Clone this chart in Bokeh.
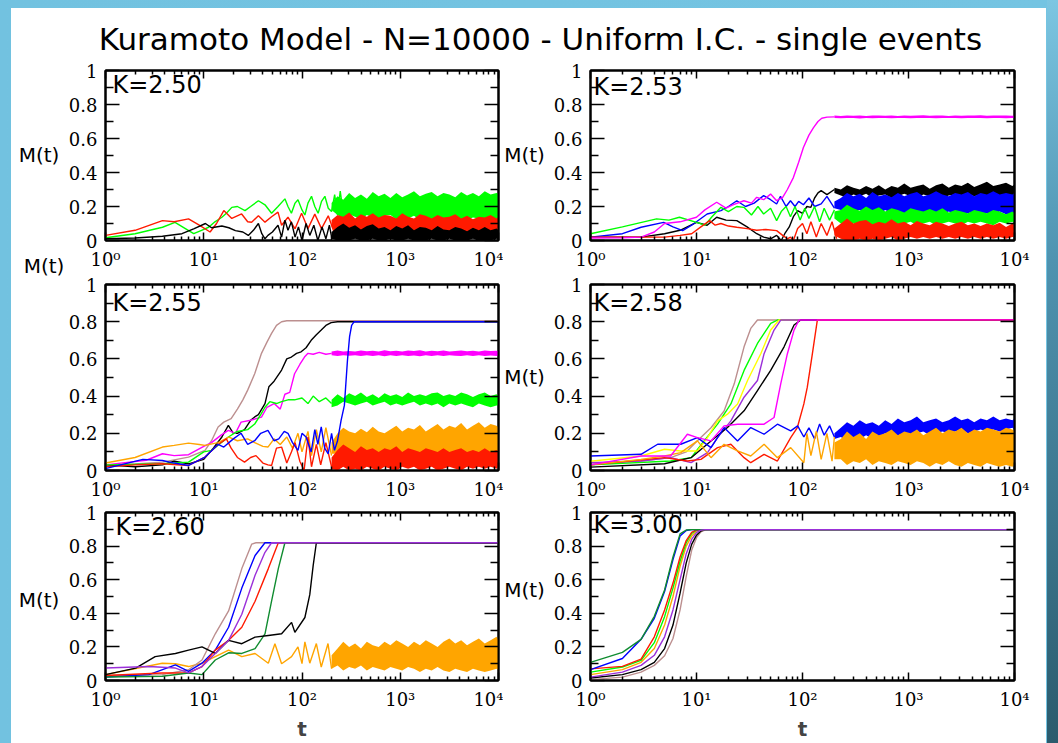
from bokeh.plotting import figure
from bokeh.models import Range1d, FixedTicker, LinearAxis, LogAxis, Label, Div
from bokeh.layouts import column, row
from bokeh.embed import file_html
from bokeh.resources import INLINE

TITLE = "Kuramoto Model - N=10000 - Uniform I.C. - single events"
K_LABELS = ["K=2.50", "K=2.53", "K=2.55", "K=2.58", "K=2.60", "K=3.00"]
Y_AXIS_TITLE = "M(t)"
X_AXIS_TITLE = "t"
X_TICKS = [1, 10, 100, 1000, 10000]
X_TICK_LABELS = ["10\u2070", "10\u00b9", "10\u00b2", "10\u00b3", "10\u2074"]
X_MINOR = [2, 3, 4, 5, 6, 7, 8, 9, 20, 30, 40, 50, 60, 70, 80, 90,
           200, 300, 400, 500, 600, 700, 800, 900, 2000, 3000, 4000, 5000, 6000, 7000, 8000, 9000]
Y_TICKS = [0, 0.2, 0.4, 0.6, 0.8, 1]
Y_TICK_LABELS = ["0", "0.2", "0.4", "0.6", "0.8", "1"]
Y_MINOR = [0.1, 0.3, 0.5, 0.7, 0.9]

# common time grid of the dense (noisy) part of the runs
BT = [200, 230, 263, 302, 347, 398, 457, 525, 603, 692, 794, 912, 1047, 1202, 1380, 1585, 1820, 2089,
      2399, 2754, 3162, 3631, 4169, 4786, 5495, 6310, 7244, 8318, 9550, 10000]

# ---------------- K = 2.50 ----------------
K250_GREEN_T = [1, 2, 3.8, 5.1, 6.5, 7.9, 9.5, 11.2, 13, 15.3, 17, 19.3, 22, 26.3, 30, 36, 42, 49, 57, 67,
                72, 78, 85, 91, 100, 107, 115, 125, 135, 146, 158, 171, 185, 200, 215, 230, 245, 263]
K250_GREEN_M = [0.016, 0.04, 0.078, 0.107, 0.07, 0.04, 0.06, 0.078, 0.11, 0.137, 0.16, 0.195, 0.2, 0.176, 0.2,
                0.234, 0.21, 0.16, 0.2, 0.245, 0.2, 0.16, 0.22, 0.24, 0.18, 0.15, 0.22, 0.26, 0.2, 0.16,
                0.23, 0.26, 0.19, 0.17, 0.27, 0.15, 0.29, 0.16]
K250_GREEN_HI = [0.22, 0.26, 0.24, 0.28, 0.25, 0.27, 0.245, 0.285, 0.26, 0.275, 0.25, 0.28, 0.255, 0.27, 0.29,
                 0.26, 0.275, 0.285, 0.26, 0.28, 0.27, 0.255, 0.285, 0.265, 0.28, 0.26, 0.29, 0.27, 0.28, 0.275]
K250_GREEN_LO = [0.18, 0.15, 0.13, 0.155, 0.14, 0.125, 0.15, 0.135, 0.13, 0.145, 0.15, 0.125, 0.14, 0.13, 0.145,
                 0.12, 0.14, 0.125, 0.135, 0.13, 0.12, 0.14, 0.125, 0.12, 0.135, 0.13, 0.115, 0.13, 0.12, 0.125]
K250_RED_T = [1, 2, 3.8, 5, 7, 9, 11.6, 13.5, 16, 19.3, 24.3, 28, 30.7, 36, 42, 49, 57, 62, 72, 85,
              99, 115, 135, 158, 185, 215]
K250_RED_M = [0.03, 0.06, 0.117, 0.11, 0.127, 0.09, 0.05, 0.1, 0.176, 0.13, 0.156, 0.11, 0.107, 0.146, 0.108,
              0.14, 0.167, 0.09, 0.137, 0.069, 0.16, 0.07, 0.155, 0.07, 0.145, 0.04]
K250_RED_HI = [0.12, 0.15, 0.14, 0.165, 0.13, 0.155, 0.14, 0.16, 0.135, 0.15, 0.145, 0.13, 0.16, 0.14, 0.13,
               0.155, 0.145, 0.13, 0.15, 0.135, 0.14, 0.155, 0.13, 0.145, 0.125, 0.14, 0.135, 0.15, 0.13, 0.14]
K250_RED_LO = [0.08, 0.04, 0.06, 0.035, 0.05, 0.03, 0.055, 0.04, 0.05, 0.03, 0.045, 0.05, 0.03, 0.04, 0.035,
               0.05, 0.04, 0.03, 0.045, 0.03, 0.05, 0.03, 0.04, 0.035, 0.04, 0.03, 0.045, 0.03, 0.04, 0.03]
K250_BLACK_T = [1, 2, 3.8, 6, 8, 10.4, 12, 15.3, 18, 21, 25, 28.4, 32, 36, 39, 42, 45, 50, 57, 62,
                67, 72, 78, 85, 92, 100, 110, 120, 132, 145, 160, 175, 190, 200]
K250_BLACK_M = [0.01, 0.015, 0.025, 0.04, 0.07, 0.1, 0.075, 0.085, 0.075, 0.058, 0.05, 0.03, 0.06, 0.1, 0.04,
                0.01, 0.03, 0.05, 0.09, 0.02, 0.12, 0.06, 0.11, 0.02, 0.08, 0.0, 0.1, 0.03, 0.09, 0.0,
                0.08, 0.01, 0.09, 0.02]
K250_BLACK_HI = [0.05, 0.08, 0.1, 0.075, 0.09, 0.065, 0.085, 0.095, 0.07, 0.08, 0.06, 0.085, 0.07, 0.09, 0.06,
                 0.08, 0.075, 0.06, 0.085, 0.065, 0.06, 0.08, 0.07, 0.055, 0.075, 0.06, 0.08, 0.06, 0.07, 0.06]
K250_BLACK_LO = [0.01, 0.0, 0.0, 0.0, 0.01, 0.0, 0.0, 0.01, 0.0, 0.0, 0.01, 0.0, 0.0, 0.01, 0.0,
                 0.0, 0.0, 0.01, 0.0, 0.0, 0.01, 0.0, 0.0, 0.0, 0.01, 0.0, 0.0, 0.0, 0.01, 0.0]

# ---------------- K = 2.53 ----------------
K253_MAGENTA_T = [1, 2, 3, 4, 5, 7, 10, 12, 15.5, 19, 22, 28, 33, 37, 43, 50, 57, 65, 72, 82,
                  92, 102, 115, 127, 140, 152, 170, 200]
K253_MAGENTA_M = [0.015, 0.016, 0.02, 0.05, 0.1, 0.11, 0.137, 0.18, 0.225, 0.19, 0.21, 0.234, 0.22, 0.254,
                  0.24, 0.273, 0.234, 0.254, 0.3, 0.37, 0.46, 0.547, 0.62, 0.664, 0.7, 0.719, 0.726, 0.727]
K253_MAGENTA_HI = [0.735, 0.733, 0.736, 0.734, 0.736, 0.733, 0.735, 0.736, 0.734, 0.735, 0.733, 0.736, 0.734,
                   0.735, 0.737, 0.734, 0.736, 0.735, 0.733, 0.736, 0.734, 0.736, 0.735, 0.737, 0.734, 0.736,
                   0.735, 0.736, 0.734, 0.735]
K253_MAGENTA_LO = [0.72, 0.719, 0.721, 0.72, 0.718, 0.72, 0.719, 0.721, 0.72, 0.719, 0.72, 0.721, 0.719,
                   0.72, 0.721, 0.72, 0.719, 0.72, 0.721, 0.72, 0.719, 0.72, 0.721, 0.72, 0.719, 0.721,
                   0.72, 0.719, 0.72, 0.72]
K253_BLACK_T = [1, 3, 5, 7, 10, 12.6, 15.5, 19, 24, 30, 37, 43, 50, 57, 63, 68, 75, 82, 90, 100,
                110, 120, 130, 140, 150, 170, 200]
K253_BLACK_M = [0.02, 0.02, 0.04, 0.06, 0.107, 0.09, 0.137, 0.12, 0.117, 0.08, 0.04, 0.02, 0.01, 0.03, 0.0,
                0.04, 0.08, 0.14, 0.176, 0.16, 0.2, 0.195, 0.25, 0.28, 0.293, 0.27, 0.3]
K253_BLACK_HI = [0.31, 0.3, 0.325, 0.31, 0.3, 0.32, 0.305, 0.325, 0.3, 0.32, 0.31, 0.335, 0.31, 0.32, 0.33,
                 0.305, 0.325, 0.335, 0.31, 0.33, 0.32, 0.34, 0.315, 0.33, 0.345, 0.32, 0.33, 0.34, 0.32, 0.33]
K253_BLACK_LO = [0.28, 0.265, 0.25, 0.27, 0.26, 0.275, 0.25, 0.265, 0.27, 0.25, 0.26, 0.275, 0.26, 0.25, 0.27,
                 0.26, 0.275, 0.25, 0.265, 0.27, 0.26, 0.275, 0.26, 0.27, 0.26, 0.275, 0.26, 0.27, 0.26, 0.27]
K253_BLUE_T = [1, 2, 3, 4.9, 6, 7.4, 9, 12.6, 17, 20, 24, 29, 35, 43, 50, 57, 62, 70, 77, 85,
               92, 102, 115, 130, 150, 170, 200]
K253_BLUE_M = [0.02, 0.04, 0.078, 0.107, 0.08, 0.058, 0.09, 0.156, 0.176, 0.2, 0.234, 0.2, 0.22, 0.264, 0.24,
               0.215, 0.26, 0.2, 0.234, 0.2, 0.23, 0.21, 0.25, 0.2, 0.215, 0.26, 0.19]
K253_BLUE_HI = [0.23, 0.25, 0.28, 0.26, 0.275, 0.25, 0.285, 0.26, 0.27, 0.255, 0.28, 0.26, 0.275, 0.285, 0.26,
                0.27, 0.29, 0.27, 0.26, 0.28, 0.27, 0.285, 0.26, 0.28, 0.27, 0.29, 0.27, 0.28, 0.27, 0.28]
K253_BLUE_LO = [0.19, 0.18, 0.16, 0.175, 0.18, 0.16, 0.17, 0.155, 0.18, 0.16, 0.17, 0.155, 0.17, 0.16, 0.15,
                0.17, 0.16, 0.15, 0.17, 0.155, 0.15, 0.16, 0.17, 0.15, 0.16, 0.15, 0.17, 0.155, 0.15, 0.16]
K253_GREEN_T = [1, 2, 4.2, 5.5, 6.9, 10, 12, 14, 17, 20, 24, 28, 33, 38, 43, 50, 57, 63, 70, 77,
                85, 95, 105, 115, 130, 145, 160, 180, 200]
K253_GREEN_M = [0.04, 0.08, 0.127, 0.12, 0.137, 0.107, 0.09, 0.14, 0.195, 0.17, 0.2, 0.195, 0.15, 0.2, 0.156,
                0.19, 0.117, 0.17, 0.2, 0.14, 0.2, 0.12, 0.19, 0.13, 0.2, 0.11, 0.19, 0.12, 0.18]
K253_GREEN_HI = [0.17, 0.18, 0.21, 0.19, 0.175, 0.2, 0.18, 0.195, 0.17, 0.19, 0.18, 0.165, 0.19, 0.18, 0.17,
                 0.185, 0.17, 0.19, 0.165, 0.18, 0.17, 0.16, 0.18, 0.17, 0.16, 0.18, 0.17, 0.155, 0.17, 0.16]
K253_GREEN_LO = [0.13, 0.1, 0.08, 0.1, 0.09, 0.105, 0.08, 0.1, 0.09, 0.1, 0.09, 0.1, 0.11, 0.09, 0.1,
                 0.11, 0.09, 0.1, 0.11, 0.1, 0.09, 0.11, 0.1, 0.11, 0.1, 0.09, 0.11, 0.1, 0.11, 0.1]
K253_RED_T = [1, 3, 5, 7, 9, 11, 13.3, 15, 17, 20, 24, 30, 37, 45, 57, 65, 72, 77, 82, 90,
              100, 110, 120, 135, 150, 170, 190, 210]
K253_RED_M = [0.02, 0.02, 0.02, 0.03, 0.04, 0.08, 0.117, 0.09, 0.1, 0.085, 0.078, 0.07, 0.06, 0.065, 0.058,
              0.03, 0.01, 0.02, 0.0, 0.07, 0.1, 0.04, 0.11, 0.02, 0.1, 0.03, 0.11, 0.01]
K253_RED_HI = [0.07, 0.1, 0.13, 0.1, 0.115, 0.12, 0.095, 0.11, 0.1, 0.125, 0.1, 0.11, 0.09, 0.115, 0.1,
               0.09, 0.11, 0.1, 0.085, 0.1, 0.11, 0.09, 0.1, 0.085, 0.1, 0.09, 0.105, 0.08, 0.1, 0.09]
K253_RED_LO = [0.03, 0.01, 0.0, 0.0, 0.01, 0.0, 0.01, 0.0, 0.01, 0.02, 0.0, 0.01, 0.02, 0.01, 0.02,
               0.01, 0.02, 0.01, 0.02, 0.01, 0.02, 0.01, 0.02, 0.01, 0.02, 0.01, 0.02, 0.01, 0.02, 0.02]

# ---------------- K = 2.55 ----------------
K255_BROWN_T = [1, 2, 3.8, 7, 10.3, 12, 14, 16, 19, 22, 25, 28, 33, 38.7, 44, 49, 55, 62, 70, 100, 1000, 10000]
K255_BROWN_M = [0.03, 0.035, 0.045, 0.072, 0.108, 0.16, 0.234, 0.26, 0.279, 0.33, 0.38, 0.432, 0.52, 0.63,
                0.69, 0.737, 0.78, 0.8, 0.805, 0.805, 0.805, 0.805]
K255_BLACK_T = [1, 2, 3.8, 5, 7, 10, 12.5, 15.3, 17.8, 20, 22, 26, 30, 33, 36, 42, 46, 52, 62, 70,
                78, 88, 98, 110, 124, 140, 157, 175, 198, 230, 1000, 10000]
K255_BLACK_M = [0.03, 0.02, 0.03, 0.05, 0.036, 0.06, 0.12, 0.18, 0.243, 0.2, 0.2, 0.22, 0.27, 0.288, 0.3,
                0.36, 0.45, 0.48, 0.54, 0.6, 0.61, 0.63, 0.638, 0.66, 0.7, 0.73, 0.755, 0.78, 0.795, 0.8,
                0.8, 0.8]
K255_MAGENTA_T = [1, 2.6, 3.8, 5, 7, 10, 12, 15, 17.8, 21, 24, 30, 38.7, 44, 52, 60, 67, 75, 84, 95,
                  106, 115, 130, 150, 175, 200]
K255_MAGENTA_M = [0.03, 0.055, 0.09, 0.08, 0.085, 0.13, 0.15, 0.19, 0.216, 0.2, 0.26, 0.27, 0.287, 0.34, 0.36,
                  0.33, 0.41, 0.42, 0.52, 0.57, 0.61, 0.63, 0.625, 0.635, 0.625, 0.63]
K255_MAGENTA_HI = [0.64, 0.645, 0.64, 0.643, 0.64, 0.645, 0.641, 0.644, 0.64, 0.646, 0.641, 0.644, 0.64,
                   0.645, 0.642, 0.646, 0.64, 0.644, 0.641, 0.645, 0.64, 0.643, 0.645, 0.641, 0.644, 0.64,
                   0.645, 0.642, 0.644, 0.641]
K255_MAGENTA_LO = [0.62, 0.615, 0.62, 0.617, 0.62, 0.615, 0.619, 0.616, 0.62, 0.614, 0.619, 0.616, 0.62,
                   0.615, 0.618, 0.614, 0.62, 0.616, 0.619, 0.615, 0.62, 0.617, 0.615, 0.619, 0.616, 0.62,
                   0.615, 0.618, 0.616, 0.619]
K255_GREEN_T = [1, 3.8, 7, 10, 12, 17.8, 22, 28, 33, 38, 42, 47, 55, 62, 72, 84, 100, 115, 130, 150, 175, 200]
K255_GREEN_M = [0.03, 0.036, 0.045, 0.1, 0.108, 0.18, 0.21, 0.22, 0.25, 0.3, 0.34, 0.37, 0.36, 0.37, 0.38,
                0.38, 0.39, 0.36, 0.4, 0.37, 0.39, 0.36]
K255_GREEN_HI = [0.38, 0.41, 0.39, 0.415, 0.4, 0.42, 0.395, 0.41, 0.39, 0.415, 0.4, 0.41, 0.395, 0.42, 0.4,
                 0.41, 0.4, 0.415, 0.42, 0.4, 0.41, 0.4, 0.42, 0.41, 0.395, 0.41, 0.42, 0.4, 0.41, 0.4]
K255_GREEN_LO = [0.34, 0.35, 0.37, 0.36, 0.35, 0.36, 0.37, 0.35, 0.36, 0.37, 0.35, 0.36, 0.35, 0.36, 0.37,
                 0.35, 0.36, 0.35, 0.36, 0.34, 0.36, 0.35, 0.36, 0.35, 0.34, 0.36, 0.35, 0.34, 0.35, 0.35]
K255_ORANGE_T = [1, 2, 3.8, 5, 7, 9, 10.3, 14, 18, 22, 28, 33, 40, 45, 52, 60, 70, 80, 91, 100,
                 115, 125, 140, 157, 175, 200]
K255_ORANGE_M = [0.04, 0.07, 0.126, 0.135, 0.147, 0.14, 0.135, 0.15, 0.18, 0.16, 0.17, 0.15, 0.13, 0.126,
                 0.17, 0.14, 0.18, 0.12, 0.2, 0.1, 0.21, 0.08, 0.22, 0.1, 0.23, 0.08]
K255_ORANGE_HI = [0.15, 0.2, 0.23, 0.21, 0.2, 0.225, 0.205, 0.235, 0.21, 0.2, 0.22, 0.24, 0.21, 0.23, 0.22,
                  0.245, 0.21, 0.23, 0.25, 0.22, 0.24, 0.23, 0.255, 0.22, 0.24, 0.26, 0.23, 0.25, 0.24, 0.23]
K255_ORANGE_LO = [0.09, 0.09, 0.07, 0.08, 0.1, 0.07, 0.08, 0.09, 0.07, 0.08, 0.06, 0.08, 0.07, 0.09, 0.06,
                  0.08, 0.07, 0.06, 0.08, 0.07, 0.06, 0.08, 0.07, 0.06, 0.07, 0.06, 0.08, 0.06, 0.07, 0.06]
K255_RED_T = [1, 2, 3.8, 7, 10.3, 14, 17, 19, 22, 26, 30, 34, 40, 45, 49, 55, 62, 70, 78, 85,
              95, 105, 115, 125, 140, 155, 175, 200]
K255_RED_M = [0.02, 0.03, 0.036, 0.027, 0.072, 0.14, 0.17, 0.12, 0.07, 0.045, 0.07, 0.08, 0.04, 0.03, 0.027,
              0.12, 0.126, 0.04, 0.1, 0.15, 0.05, 0.0, 0.18, 0.02, 0.14, 0.03, 0.15, 0.02]
K255_RED_HI = [0.07, 0.11, 0.14, 0.12, 0.1, 0.13, 0.11, 0.12, 0.1, 0.12, 0.11, 0.13, 0.1, 0.12, 0.11,
               0.1, 0.12, 0.11, 0.1, 0.12, 0.1, 0.11, 0.12, 0.1, 0.11, 0.1, 0.12, 0.1, 0.11, 0.1]
K255_RED_LO = [0.01, 0.0, 0.02, 0.0, 0.01, 0.0, 0.02, 0.01, 0.0, 0.02, 0.01, 0.0, 0.02, 0.01, 0.02,
               0.0, 0.01, 0.02, 0.0, 0.01, 0.02, 0.01, 0.0, 0.02, 0.01, 0.02, 0.01, 0.02, 0.01, 0.02]
K255_BLUE_T = [1, 2.4, 3.8, 5, 7, 10.3, 14, 16, 20, 24, 28, 33, 38, 45, 52, 58, 66, 72, 80, 91,
               100, 110, 124, 135, 145, 157, 170, 185, 200, 214, 230, 250, 270, 290, 305, 320, 340, 1000, 10000]
K255_BLUE_M = [0.01, 0.06, 0.054, 0.04, 0.027, 0.072, 0.14, 0.126, 0.17, 0.2, 0.14, 0.16, 0.2, 0.216, 0.16,
               0.17, 0.21, 0.2, 0.15, 0.108, 0.2, 0.18, 0.1, 0.22, 0.14, 0.234, 0.12, 0.09, 0.2, 0.108,
               0.16, 0.27, 0.35, 0.59, 0.72, 0.78, 0.8, 0.8, 0.8]

# ---------------- K = 2.58 ----------------
K258_BROWN_T = [1, 3, 5.7, 8, 10.2, 13.7, 18.2, 22.7, 28.1, 32.5, 37.6, 10000]
K258_BROWN_M = [0.033, 0.051, 0.069, 0.1, 0.16, 0.23, 0.32, 0.466, 0.665, 0.764, 0.809, 0.81]
K258_GREEN_T = [1, 5.7, 8.9, 11.8, 15.8, 21.1, 28.1, 37.6, 50.1, 58, 10000]
K258_GREEN_M = [0.03, 0.051, 0.069, 0.159, 0.249, 0.358, 0.538, 0.683, 0.791, 0.809, 0.81]
K258_YELLOW_T = [1, 3, 5, 7.1, 10.2, 12.7, 15.8, 19.6, 24.4, 30.3, 40.4, 50.1, 60, 10000]
K258_YELLOW_M = [0.05, 0.078, 0.114, 0.105, 0.105, 0.177, 0.267, 0.303, 0.358, 0.484, 0.628, 0.755, 0.809, 0.81]
K258_VIOLET_T = [1, 3, 5.7, 8.9, 12.7, 15.8, 21.1, 28.1, 37.6, 43.4, 53.9, 62.3, 10000]
K258_VIOLET_M = [0.042, 0.051, 0.069, 0.042, 0.096, 0.177, 0.267, 0.394, 0.484, 0.628, 0.755, 0.809, 0.81]
K258_BLACK_T = [1, 5, 8.9, 13.7, 19.6, 28.1, 37.6, 50.1, 67, 83.2, 96.1, 10000]
K258_BLACK_M = [0.018, 0.036, 0.069, 0.159, 0.231, 0.321, 0.43, 0.538, 0.665, 0.782, 0.809, 0.81]
K258_MAGENTA_T = [1, 3, 5.7, 8.2, 10.2, 13.7, 18.2, 24.4, 32.5, 43.4, 53.9, 62.3, 72, 83.2, 92.7, 10000]
K258_MAGENTA_M = [0.03, 0.078, 0.078, 0.195, 0.177, 0.159, 0.24, 0.249, 0.249, 0.249, 0.285, 0.466, 0.628,
                  0.755, 0.809, 0.81]
K258_RED_T = [1, 5, 8.2, 11, 15.8, 21.1, 28.1, 32.5, 43.4, 58, 77.4, 89.4, 103, 111, 124, 138, 10000]
K258_RED_M = [0.03, 0.069, 0.051, 0.06, 0.123, 0.141, 0.069, 0.042, 0.087, 0.051, 0.177, 0.231, 0.358, 0.448,
              0.628, 0.809, 0.81]
K258_BLUE_T = [1, 3, 4.3, 7.1, 10.2, 13.7, 18.2, 24.4, 32.5, 43.4, 58, 77.4, 90, 103, 115, 130, 145, 160, 180, 200]
K258_BLUE_M = [0.078, 0.087, 0.141, 0.141, 0.177, 0.123, 0.231, 0.159, 0.231, 0.195, 0.249, 0.213, 0.24, 0.18,
               0.23, 0.17, 0.25, 0.19, 0.24, 0.18]
K258_BLUE_HI = [0.2, 0.23, 0.26, 0.24, 0.27, 0.25, 0.26, 0.24, 0.27, 0.25, 0.28, 0.26, 0.27, 0.29, 0.26,
                0.27, 0.28, 0.26, 0.27, 0.29, 0.27, 0.28, 0.26, 0.28, 0.27, 0.29, 0.27, 0.28, 0.27, 0.28]
K258_BLUE_LO = [0.17, 0.18, 0.16, 0.18, 0.17, 0.19, 0.17, 0.18, 0.2, 0.18, 0.19, 0.2, 0.18, 0.2, 0.21,
                0.19, 0.2, 0.21, 0.2, 0.21, 0.22, 0.2, 0.21, 0.22, 0.21, 0.22, 0.21, 0.22, 0.23, 0.22]
K258_ORANGE_T = [1, 3, 5, 7.1, 10.2, 13.7, 18.2, 24.4, 32.5, 43.4, 58, 77.4, 103, 110, 120, 135, 150, 170, 190, 200]
K258_ORANGE_M = [0.03, 0.06, 0.078, 0.096, 0.159, 0.069, 0.141, 0.105, 0.078, 0.141, 0.069, 0.123, 0.042, 0.2,
                 0.08, 0.21, 0.06, 0.2, 0.05, 0.18]
K258_ORANGE_HI = [0.15, 0.17, 0.21, 0.18, 0.2, 0.17, 0.21, 0.19, 0.2, 0.22, 0.19, 0.21, 0.2, 0.22, 0.19,
                  0.21, 0.23, 0.2, 0.22, 0.21, 0.23, 0.2, 0.22, 0.21, 0.23, 0.22, 0.21, 0.23, 0.22, 0.21]
K258_ORANGE_LO = [0.06, 0.06, 0.03, 0.05, 0.04, 0.06, 0.03, 0.05, 0.04, 0.03, 0.05, 0.04, 0.03, 0.05, 0.04,
                  0.02, 0.04, 0.03, 0.05, 0.03, 0.02, 0.04, 0.03, 0.02, 0.04, 0.03, 0.02, 0.03, 0.02, 0.03]

# ---------------- K = 2.60 ----------------
K260_BROWN_T = [1, 3.78, 7, 9.6, 13.1, 17.9, 24.4, 30.8, 34, 10000]
K260_BROWN_M = [0.03, 0.035, 0.064, 0.122, 0.278, 0.414, 0.666, 0.812, 0.82, 0.82]
K260_BLUE_T = [1, 2.77, 5.15, 7, 9.6, 13.1, 17.9, 24.4, 33.3, 42, 10000]
K260_BLUE_M = [0.021, 0.035, 0.093, 0.054, 0.103, 0.181, 0.317, 0.55, 0.744, 0.82, 0.82]
K260_VIOLET_T = [1, 2.77, 5.15, 7, 9.6, 13.1, 17.9, 24.4, 33.3, 42, 49, 10000]
K260_VIOLET_M = [0.074, 0.083, 0.074, 0.045, 0.083, 0.161, 0.239, 0.394, 0.627, 0.763, 0.82, 0.82]
K260_RED_T = [1, 3.78, 7, 9.6, 13.1, 17.9, 24.4, 33.3, 45.4, 57.4, 10000]
K260_RED_M = [0.03, 0.045, 0.045, 0.083, 0.181, 0.239, 0.317, 0.472, 0.666, 0.82, 0.82]
K260_GREEN_T = [1, 3.78, 7, 9.6, 13.1, 17.9, 24.4, 33.3, 42, 49, 57.4, 67, 10000]
K260_GREEN_M = [0.021, 0.025, 0.045, 0.035, 0.122, 0.165, 0.161, 0.19, 0.278, 0.472, 0.666, 0.82, 0.82]
K260_BLACK_T = [1, 2.03, 3.2, 5.15, 7, 9.6, 13.1, 17.9, 24.4, 33.3, 45.4, 62, 78.3, 84.6, 107, 120, 130, 140, 10000]
K260_BLACK_M = [0.035, 0.074, 0.142, 0.161, 0.181, 0.2, 0.161, 0.239, 0.219, 0.258, 0.268, 0.278, 0.346,
                0.287, 0.375, 0.511, 0.685, 0.82, 0.82]
K260_ORANGE_T = [1, 3.78, 5.15, 7, 9.6, 13.1, 17.9, 24.4, 33.3, 45.4, 53, 62, 78.3, 91, 100, 107, 120, 140,
                 157, 184, 200]
K260_ORANGE_M = [0.035, 0.103, 0.1, 0.083, 0.103, 0.142, 0.181, 0.142, 0.161, 0.103, 0.219, 0.1, 0.142, 0.2,
                 0.1, 0.23, 0.103, 0.22, 0.08, 0.22, 0.07]
K260_ORANGE_HI = [0.15, 0.19, 0.23, 0.2, 0.22, 0.19, 0.23, 0.21, 0.2, 0.23, 0.21, 0.24, 0.22, 0.2, 0.23,
                  0.21, 0.24, 0.22, 0.2, 0.23, 0.25, 0.22, 0.24, 0.21, 0.23, 0.25, 0.22, 0.24, 0.26, 0.24]
K260_ORANGE_LO = [0.07, 0.09, 0.06, 0.08, 0.07, 0.09, 0.06, 0.08, 0.07, 0.06, 0.08, 0.07, 0.06, 0.08, 0.07,
                  0.05, 0.07, 0.06, 0.08, 0.06, 0.05, 0.07, 0.06, 0.05, 0.07, 0.06, 0.05, 0.06, 0.07, 0.06]

# ---------------- K = 3.00 ----------------
K300_T = [1, 2, 3, 4, 5, 6, 7, 8, 9, 10, 11, 12, 13, 10000]
K300_BROWN_M = [0.005, 0.02, 0.05, 0.09, 0.147, 0.25, 0.42, 0.62, 0.775, 0.85, 0.885, 0.895, 0.898, 0.898]
K300_BLACK_M = [0.015, 0.035, 0.065, 0.108, 0.19, 0.33, 0.52, 0.7, 0.81, 0.865, 0.89, 0.898, 0.898, 0.898]
K300_ORANGE_M = [0.035, 0.065, 0.108, 0.19, 0.33, 0.5, 0.68, 0.8, 0.86, 0.89, 0.897, 0.898, 0.898, 0.898]
K300_GREEN_M = [0.05, 0.08, 0.12, 0.225, 0.38, 0.55, 0.71, 0.82, 0.875, 0.895, 0.898, 0.898, 0.898, 0.898]
K300_RED_M = [0.069, 0.084, 0.127, 0.26, 0.42, 0.58, 0.735, 0.833, 0.882, 0.896, 0.898, 0.898, 0.898, 0.898]
K300_BLUE_M = [0.065, 0.131, 0.245, 0.37, 0.53, 0.72, 0.86, 0.893, 0.898, 0.898, 0.898, 0.898, 0.898, 0.898]
K300_DKGREEN_M = [0.108, 0.167, 0.245, 0.382, 0.539, 0.735, 0.873, 0.896, 0.898, 0.898, 0.898, 0.898, 0.898, 0.898]
K300_VIOLET_M = [0.02, 0.05, 0.09, 0.15, 0.26, 0.42, 0.6, 0.755, 0.84, 0.88, 0.895, 0.898, 0.898, 0.898]

BLACK = "#000000"
RED = "#ff1a00"
GREEN = "#00ff00"
BLUE = "#0000ff"
MAGENTA = "#ff00ff"
ORANGE = "#ffa500"
BROWN = "#bc8f8f"
YELLOW = "#ffff00"
VIOLET = "#9b30d9"
DKGREEN = "#108c30"

PANELS = [
    [(GREEN, K250_GREEN_T, K250_GREEN_M, K250_GREEN_LO, K250_GREEN_HI),
     (RED, K250_RED_T, K250_RED_M, K250_RED_LO, K250_RED_HI),
     (BLACK, K250_BLACK_T, K250_BLACK_M, K250_BLACK_LO, K250_BLACK_HI)],
    [(BLACK, K253_BLACK_T, K253_BLACK_M, K253_BLACK_LO, K253_BLACK_HI),
     (BLUE, K253_BLUE_T, K253_BLUE_M, K253_BLUE_LO, K253_BLUE_HI),
     (GREEN, K253_GREEN_T, K253_GREEN_M, K253_GREEN_LO, K253_GREEN_HI),
     (RED, K253_RED_T, K253_RED_M, K253_RED_LO, K253_RED_HI),
     (MAGENTA, K253_MAGENTA_T, K253_MAGENTA_M, K253_MAGENTA_LO, K253_MAGENTA_HI)],
    [(BROWN, K255_BROWN_T, K255_BROWN_M, None, None),
     (BLACK, K255_BLACK_T, K255_BLACK_M, None, None),
     (MAGENTA, K255_MAGENTA_T, K255_MAGENTA_M, K255_MAGENTA_LO, K255_MAGENTA_HI),
     (GREEN, K255_GREEN_T, K255_GREEN_M, K255_GREEN_LO, K255_GREEN_HI),
     (ORANGE, K255_ORANGE_T, K255_ORANGE_M, K255_ORANGE_LO, K255_ORANGE_HI),
     (RED, K255_RED_T, K255_RED_M, K255_RED_LO, K255_RED_HI),
     (BLUE, K255_BLUE_T, K255_BLUE_M, None, None)],
    [(BROWN, K258_BROWN_T, K258_BROWN_M, None, None),
     (GREEN, K258_GREEN_T, K258_GREEN_M, None, None),
     (YELLOW, K258_YELLOW_T, K258_YELLOW_M, None, None),
     (VIOLET, K258_VIOLET_T, K258_VIOLET_M, None, None),
     (BLACK, K258_BLACK_T, K258_BLACK_M, None, None),
     (RED, K258_RED_T, K258_RED_M, None, None),
     (BLUE, K258_BLUE_T, K258_BLUE_M, K258_BLUE_LO, K258_BLUE_HI),
     (ORANGE, K258_ORANGE_T, K258_ORANGE_M, K258_ORANGE_LO, K258_ORANGE_HI),
     (MAGENTA, K258_MAGENTA_T, K258_MAGENTA_M, None, None)],
    [(ORANGE, K260_ORANGE_T, K260_ORANGE_M, K260_ORANGE_LO, K260_ORANGE_HI),
     (BROWN, K260_BROWN_T, K260_BROWN_M, None, None),
     (BLUE, K260_BLUE_T, K260_BLUE_M, None, None),
     (RED, K260_RED_T, K260_RED_M, None, None),
     (DKGREEN, K260_GREEN_T, K260_GREEN_M, None, None),
     (BLACK, K260_BLACK_T, K260_BLACK_M, None, None),
     (VIOLET, K260_VIOLET_T, K260_VIOLET_M, None, None)],
    [(BROWN, K300_T, K300_BROWN_M, None, None),
     (BLACK, K300_T, K300_BLACK_M, None, None),
     (ORANGE, K300_T, K300_ORANGE_M, None, None),
     (GREEN, K300_T, K300_GREEN_M, None, None),
     (RED, K300_T, K300_RED_M, None, None),
     (BLUE, K300_T, K300_BLUE_M, None, None),
     (DKGREEN, K300_T, K300_DKGREEN_M, None, None),
     (VIOLET, K300_T, K300_VIOLET_M, None, None)],
]

# layout geometry (pixels)
GUT_W = [54, 45]          # gutters that hold the horizontal "M(t)" titles
COL_W = [438, 498]
COL_MBL = [38, 42]
COL_MBR = [5, 32]
ROW_H = [220, 228, 239]
ROW_MBT = [14, 8, 8]
ROW_MBB = [36, 34, 62]
K_XOFF = [7, 3, 7, 3, 10, 3]
K_YOFF = [-14.5, -16.5, -18.5, -18.5, -14.5, -12.5]
# centres of the "M(t)" texts inside each gutter (pixels from gutter top-left)
GUT_TEXT = {
    (0, 0): [(28, 99), (33, 210)],
    (0, 1): [(21.5, 99)],
    (1, 0): [],
    (1, 1): [(21.5, 101)],
    (2, 0): [(28, 96)],
    (2, 1): [(21.5, 86)],
}

SANS = "DejaVu Sans"
SERIF = "DejaVu Serif"


def style_axis(ax, tick_in, minor_in, show_labels):
    ax.major_tick_in = tick_in
    ax.major_tick_out = 0
    ax.minor_tick_in = minor_in
    ax.minor_tick_out = 0
    ax.axis_line_width = 2
    ax.axis_line_color = "black"
    ax.major_tick_line_width = 1.5
    ax.minor_tick_line_width = 1.5
    ax.major_tick_line_color = "black"
    ax.minor_tick_line_color = "black"
    if show_labels:
        ax.major_label_text_font = SERIF
        ax.major_label_text_font_size = "18px"
        ax.major_label_text_color = "black"
        ax.major_label_standoff = 8
    else:
        ax.major_label_text_font_size = "0px"
        ax.major_label_standoff = 0


def make_gutter(r, c):
    spans = "".join(
        '<span style="position:absolute;left:%spx;top:%spx;transform:translate(-50%%,-50%%);'
        'white-space:nowrap;font-family:\'DejaVu Sans\';font-size:20px;line-height:20px;color:#000">%s</span>'
        % (gx, gy, Y_AXIS_TITLE)
        for (gx, gy) in GUT_TEXT[(r, c)])
    html = '<div style="position:relative;width:%dpx;height:%dpx;overflow:visible">%s</div>' % (
        GUT_W[c], ROW_H[r], spans)
    return Div(text=html, width=GUT_W[c], height=ROW_H[r], margin=0,
               styles={"background-color": "white"})


def make_panel(i):
    r, c = divmod(i, 2)
    p = figure(width=COL_W[c], height=ROW_H[r], x_axis_type="log",
               x_range=Range1d(1, 10000), y_range=Range1d(0, 1),
               output_backend="svg", toolbar_location=None,
               min_border_left=COL_MBL[c], min_border_right=COL_MBR[c],
               min_border_top=ROW_MBT[r], min_border_bottom=ROW_MBB[r])
    p.outline_line_color = "black"
    p.outline_line_width = 2
    p.grid.visible = False
    p.background_fill_color = "white"
    p.border_fill_color = "white"

    xa = p.xaxis[0]
    xa.ticker = FixedTicker(ticks=X_TICKS, minor_ticks=X_MINOR)
    xa.major_label_overrides = dict(zip(X_TICKS, X_TICK_LABELS))
    style_axis(xa, 8, 4, True)
    ya = p.yaxis[0]
    ya.ticker = FixedTicker(ticks=Y_TICKS, minor_ticks=Y_MINOR)
    ya.major_label_overrides = dict(zip(Y_TICKS, Y_TICK_LABELS))
    style_axis(ya, 14, 8, True)

    top = LogAxis(ticker=FixedTicker(ticks=X_TICKS, minor_ticks=X_MINOR),
                  major_label_overrides={v: "" for v in X_TICKS})
    style_axis(top, 8, 4, False)
    p.add_layout(top, "above")
    right = LinearAxis(ticker=FixedTicker(ticks=Y_TICKS, minor_ticks=Y_MINOR),
                       major_label_overrides={v: "" for v in Y_TICKS})
    style_axis(right, 14, 8, False)
    p.add_layout(right, "right")

    if r == 2:
        xa.axis_label = X_AXIS_TITLE
        xa.axis_label_text_font = SANS
        xa.axis_label_text_font_size = "20px"
        xa.axis_label_text_font_style = "bold"
        xa.axis_label_standoff = 4

    for color, t, m, lo, hi in PANELS[i]:
        if lo is not None:
            p.varea(x=BT, y1=lo, y2=hi, fill_color=color, fill_alpha=1.0)
        p.line(x=t, y=m, line_color=color, line_width=1.4)

    p.add_layout(Label(x=1, y=1, x_offset=K_XOFF[i], y_offset=K_YOFF[i], text=K_LABELS[i],
                       text_font=SANS, text_font_size="24px", text_color="black",
                       text_baseline="alphabetic", text_align="left"))
    return p


rows = []
for r in range(3):
    kids = []
    for c in range(2):
        kids.append(make_gutter(r, c))
        kids.append(make_panel(2 * r + c))
    rows.append(row(*kids))

tf = figure(width=1035, height=48, x_range=Range1d(0, 1), y_range=Range1d(0, 1),
            x_axis_location=None, y_axis_location=None, toolbar_location=None,
            output_backend="svg", min_border=0)
tf.outline_line_color = None
tf.grid.visible = False
tf.add_layout(Label(x=0.511, y=0.36, text=TITLE, text_align="center", text_baseline="alphabetic",
                    text_font=SANS, text_font_size="31px", text_color="black"))

inner = column(tf, *rows, styles={"background-color": "white"})
inner.margin = (8, 0, 0, 11)
page = column(inner, width=1058, height=743,
              styles={"background": "linear-gradient(to bottom, #7cc6e2 0%, #4f93b0 35%, #2b5b6d 100%) right top / 11px 100% no-repeat, linear-gradient(to right, #72c2e0, #74c4e2)"})

open("out.html", "w").write(file_html(page, INLINE, title="Kuramoto"))
